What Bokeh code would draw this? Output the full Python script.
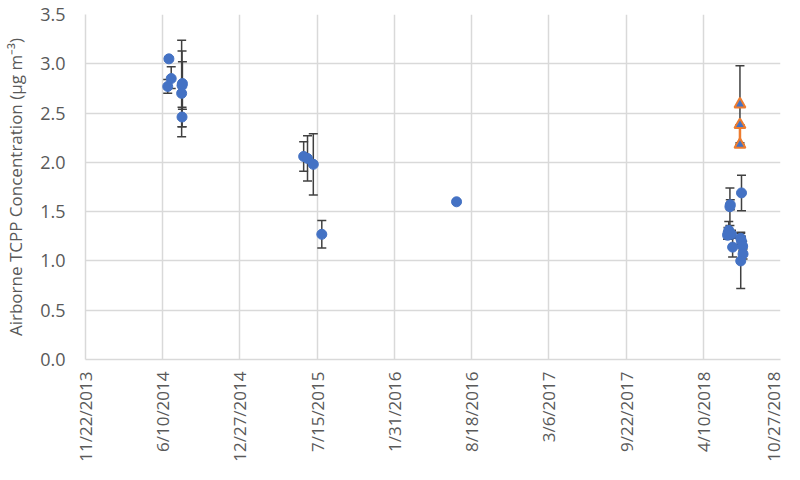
import pandas as pd
from bokeh.plotting import figure
from bokeh.models import ColumnDataSource, Whisker, TeeHead, FixedTicker, Range1d
from bokeh.embed import file_html
from bokeh.resources import INLINE
from math import pi

# ---- data ----
blue_dates = ["2014-06-26", "2014-07-02", "2014-06-23", "2014-07-31", "2014-07-30",
              "2014-07-29", "2014-07-30",
              "2015-06-10", "2015-06-20", "2015-07-05", "2015-07-27",
              "2016-07-10",
              "2018-07-18", "2018-06-18", "2018-06-19", "2018-06-13", "2018-06-15",
              "2018-06-22", "2018-06-12", "2018-06-25", "2018-07-16", "2018-07-18",
              "2018-07-21", "2018-07-22", "2018-07-16"]
blue_values = [3.05, 2.85, 2.77, 2.80, 2.78, 2.70, 2.46,
               2.06, 2.04, 1.98, 1.27,
               1.60,
               1.69, 1.55, 1.57, 1.28, 1.31, 1.27, 1.26, 1.14, 1.23, 1.20, 1.15, 1.07, 1.00]
blue_err_hi = [0.02, 0.12, 0.07, 0.22, 0.35, 0.54, 0.10,
               0.15, 0.23, 0.31, 0.14,
               0.02,
               0.18, 0.19, 0.05, 0.06, 0.09, 0.04, 0.04, 0.10, 0.06, 0.05, 0.05, 0.05, 0.28]
blue_err_lo = [0.02, 0.10, 0.07, 0.26, 0.42, 0.44, 0.10,
               0.15, 0.23, 0.31, 0.14,
               0.02,
               0.18, 0.19, 0.05, 0.06, 0.09, 0.04, 0.04, 0.10, 0.06, 0.05, 0.05, 0.05, 0.28]

orange_dates = ["2018-07-14", "2018-07-14", "2018-07-14"]
orange_values = [2.59, 2.38, 2.18]
orange_err_hi = [0.39, 0.0, 0.0]
orange_err_lo = [0.39, 0.0, 0.0]
orange_seg_lo = [0.0, 0.20, 0.0]   # orange lower bar

tick_labels = ["11/22/2013", "6/10/2014", "12/27/2014", "7/15/2015", "1/31/2016",
               "8/18/2016", "3/6/2017", "9/22/2017", "4/10/2018", "10/27/2018"]
y_ticks = [0, 0.5, 1.0, 1.5, 2.0, 2.5, 3.0, 3.5]

BLUE = "#4472C4"
ORANGE = "#ED7D31"
GRID = "#D9D9D9"
TXT = "#595959"
ERR = "#404040"
FONT = "Open Sans"

tick_dt = pd.to_datetime(tick_labels, format="%m/%d/%Y")
tick_ms = [float(t.value // 10**6) for t in tick_dt]

bd = pd.to_datetime(blue_dates)
bsrc = ColumnDataSource(dict(
    x=bd, y=blue_values,
    upper=[v + e for v, e in zip(blue_values, blue_err_hi)],
    lower=[v - e for v, e in zip(blue_values, blue_err_lo)],
))
od = pd.to_datetime(orange_dates)
osrc = ColumnDataSource(dict(
    x=od, y=orange_values,
    upper=[v + e for v, e in zip(orange_values, orange_err_hi)],
    lower=[v - e for v, e in zip(orange_values, orange_err_lo)],
    olower=[v - e for v, e in zip(orange_values, orange_seg_lo)],
))

p = figure(width=784, height=464, x_axis_type="datetime",
           output_backend="svg", toolbar_location=None,
           min_border_left=85, min_border_right=4, min_border_top=14, min_border_bottom=90,
           x_range=Range1d(tick_dt[0], tick_dt[-1]), y_range=Range1d(0, 3.5))
p.outline_line_color = None
p.background_fill_color = "white"

# error bars
p.add_layout(Whisker(source=bsrc, base="x", upper="upper", lower="lower",
                     line_color=ERR, line_width=1.5,
                     upper_head=TeeHead(size=9, line_color=ERR, line_width=1.5),
                     lower_head=TeeHead(size=9, line_color=ERR, line_width=1.5)))
p.add_layout(Whisker(source=osrc, base="x", upper="upper", lower="lower",
                     line_color=ERR, line_width=1.5,
                     upper_head=TeeHead(size=9, line_color=ERR, line_width=1.5),
                     lower_head=TeeHead(size=9, line_color=ERR, line_width=1.5)))
p.segment(x0="x", y0="y", x1="x", y1="olower", source=osrc,
          line_color=ORANGE, line_width=2.5)

p.scatter("x", "y", source=bsrc, marker="circle", size=10,
          fill_color=BLUE, line_color=BLUE)
p.scatter("x", "y", source=osrc, marker="triangle", size=11,
          fill_color=BLUE, line_color=ORANGE, line_width=2)

# axes
p.xaxis.ticker = FixedTicker(ticks=tick_ms)
p.xaxis.major_label_overrides = {ms: lab for ms, lab in zip(tick_ms, tick_labels)}
p.xaxis.major_label_orientation = pi / 2
p.yaxis.ticker = FixedTicker(ticks=y_ticks)
p.yaxis.major_label_overrides = {t: f"{t:.1f}" for t in y_ticks}

for ax in (p.xaxis[0], p.yaxis[0]):
    ax.axis_line_color = GRID
    ax.axis_line_width = 1.5
    ax.major_tick_line_color = None
    ax.minor_tick_line_color = None
    ax.major_label_text_color = TXT
    ax.major_label_text_font = FONT
p.xaxis.major_label_text_font_size = "17px"
p.yaxis.major_label_text_font_size = "18px"
p.xaxis.major_label_standoff = 6
p.yaxis.major_label_standoff = 14

p.yaxis.axis_label = "Airborne TCPP Concentration (µg m\u207b\u00b3)"
p.yaxis.axis_label_text_font = FONT
p.yaxis.axis_label_text_font_size = "17px"
p.yaxis.axis_label_text_font_style = "normal"
p.yaxis.axis_label_text_color = TXT
p.yaxis.axis_label_standoff = 10

p.xgrid.ticker = FixedTicker(ticks=tick_ms)
p.xgrid.grid_line_color = GRID
p.xgrid.grid_line_width = 1.5
p.ygrid.grid_line_color = GRID
p.ygrid.grid_line_width = 1.5

open("out.html", "w").write(file_html(p, INLINE))
